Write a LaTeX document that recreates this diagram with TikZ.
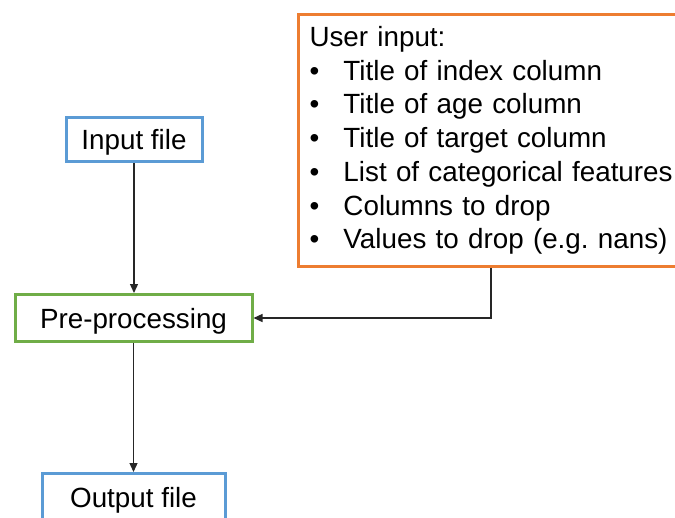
\documentclass[tikz,border=0pt]{standalone}
\usepackage{fontspec}
\setmainfont{Liberation Sans}
\usetikzlibrary{arrows.meta}
\definecolor{boxblue}{HTML}{5B9BD5}
\definecolor{boxgreen}{HTML}{70AD47}
\definecolor{boxorange}{HTML}{ED7D31}
\frenchspacing
\tikzset{
  flowbox/.style={draw, line width=3pt, fill=white, inner sep=0pt, font=\fontsize{27.8pt}{33.7pt}\selectfont},
  onetext/.style={text height=20pt, text depth=0pt},
  conn/.style={line width=1.3pt, draw=black!85, -{Triangle[length=9pt,width=8pt]}},
}
\newcommand{\bulletitem}[1]{\makebox[34pt][l]{\textbullet}#1}
\begin{document}
\begin{tikzpicture}[x=1pt,y=-1pt]
\useasboundingbox (0,0) rectangle (675,517);
\node[flowbox, onetext, draw=boxblue, minimum width=136pt, minimum height=44pt] (in) at (134,139.5) {Input file};
\node[flowbox, onetext, draw=boxgreen, minimum width=237pt, minimum height=47pt] (pre) at (133.5,318) {Pre-processing};
\node[flowbox, onetext, draw=boxblue, minimum width=183pt, minimum height=47pt] (out) at (133.5,497) {Output file};
\node[flowbox, draw=boxorange, anchor=north west, minimum width=392pt, minimum height=252pt,
      inner xsep=11pt, text width=370pt, align=left] (user) at (297,13)
  {User input:\\
   \bulletitem{Title of index column}\\
   \bulletitem{Title of age column}\\
   \bulletitem{Title of target column}\\
   \bulletitem{List of categorical features}\\
   \bulletitem{Columns to drop}\\
   \bulletitem{Values to drop (e.g. nans)}};
\coordinate (bend) at (491,0);
\draw[conn] (in.south) -- (in.south |- pre.north);
\draw[conn] (pre.south) -- (pre.south |- out.north);
\draw[conn] (bend |- user.south) -- (bend |- pre.east) -- (pre.east);
\end{tikzpicture}
\end{document}
